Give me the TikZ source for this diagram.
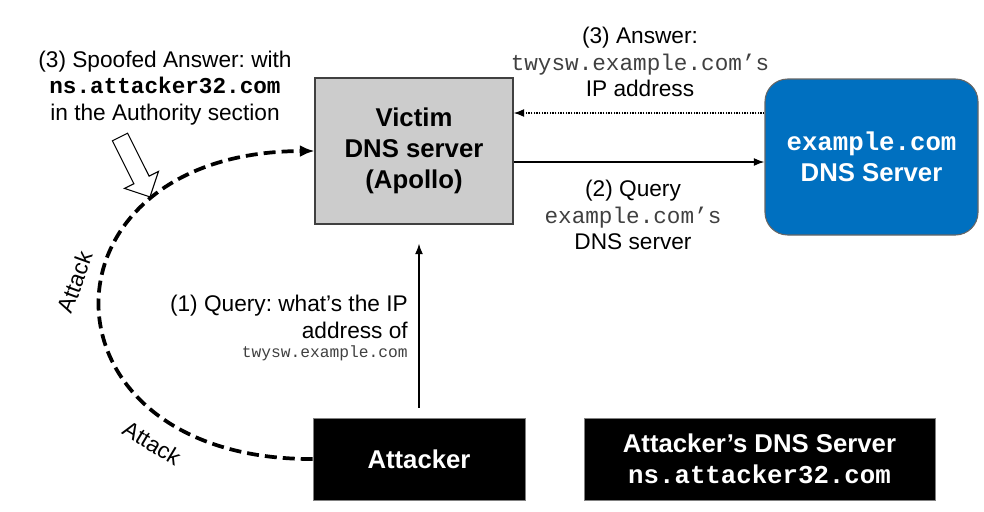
\documentclass[tikz,border=0pt]{standalone}
\usepackage{fontspec}
\setmainfont{Liberation Sans}
\setmonofont{Liberation Mono}
\usetikzlibrary{arrows.meta}
\frenchspacing
\tikzset{txt/.style = {align=center, inner sep=0, font=\fontsize{17}{20}\selectfont}}
\tikzset{box/.style = {draw, inner sep=0, align=center,
                       font=\fontsize{19.3}{23}\selectfont\bfseries}}
\tikzset{arr/.style = {-{Latex[length=8pt, width=6pt]}, line width=1.1pt}}
\tikzset{attack/.style = {dash pattern=on 9pt off 4.5pt, line width=2.8pt,
                          -{Latex[length=11pt, width=9pt]}}}
\definecolor{mblue}{RGB}{0, 112, 192}
\definecolor{mgray}{RGB}{204, 204, 204}
\newcommand{\mono}[1]{{\color{black!75}\texttt{#1}}}
\begin{document}
\begin{tikzpicture}[x=0.75pt, y=-0.75pt]
  \useasboundingbox (0, 0) rectangle (984, 511);

  \node [box, fill=mgray, draw=black!75, line width=0.8pt,
         minimum width=148.5pt, minimum height=109.5pt] (victim) at (414, 151)
        {Victim\\DNS server\\(Apollo)};
  \node [box, fill=mblue, draw=black!60, line width=0.8pt, rounded corners=17pt,
         text=white, minimum width=159.75pt, minimum height=117pt] (dns) at (871.5, 157)
        {\texttt{example.com}\\DNS Server};
  \node [box, fill=black, draw=black!50, text=white,
         minimum width=159pt, minimum height=61.5pt] (attacker) at (419, 459) {Attacker};
  \node [box, fill=black, draw=black!50, text=white,
         minimum width=263.25pt, minimum height=61.5pt] (adns) at (759.5, 459)
        {Attacker’s DNS Server\\\texttt{ns.attacker32.com}};

  \node [txt] (spoof) at (165, 88)
        {(3) Spoofed Answer: with\\\textbf{\texttt{ns.attacker32.com}}\\in the Authority section};
  \node [txt] (answer) at (640, 62) {(3) Answer:\\\mono{twysw.example.com’s}\\IP address};
  \node [txt] (query2) at (633, 215) {(2) Query\\\mono{example.com’s}\\DNS server};
  \node [txt, align=right, anchor=east] (query1) at (408, 328)
        {(1) Query: what’s the IP\\address of\\[-5.8pt]{\fontsize{12.2}{14}\selectfont\mono{twysw.example.com}}};

  \draw [arr] (attacker.north) -- (attacker.north |- victim.south)
        [shorten <=7.5pt, shorten >=14.25pt];
  \draw [arr] ([yshift=-8.25pt]victim.east) -- ([yshift=-8.25pt]victim.east -| dns.west);
  \draw [arr, dash pattern=on 1pt off 1pt] ([yshift=33pt]dns.west)
        -- ([yshift=33pt]dns.west -| victim.east);

  \draw [attack] (attacker.west) .. controls (29, 460) and (29, 152) .. (victim.west);
  \node [txt, rotate=70] (attack1) at (75, 282) {Attack};
  \node [txt, rotate=-31] (attack2) at (152, 443) {Attack};

  \begin{scope}[shift={(120, 137)}, rotate=-63.4]
    \draw [fill=white, line width=0.8pt]
      (0, -8.5) -- (48, -8.5) -- (48, -19) -- (67, 0) -- (48, 19) -- (48, 8.5) -- (0, 8.5) -- cycle;
  \end{scope}
\end{tikzpicture}
\end{document}
